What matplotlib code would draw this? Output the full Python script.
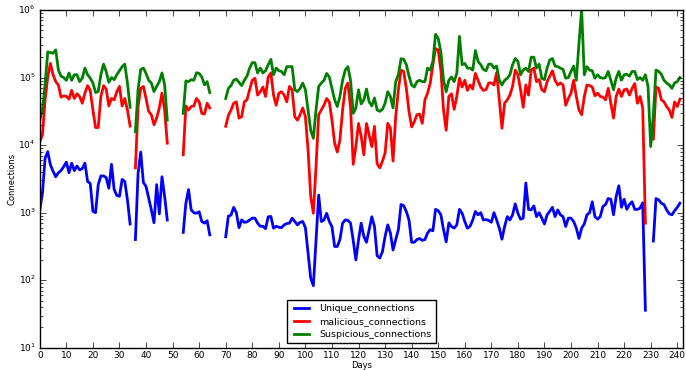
import numpy as np
import matplotlib
matplotlib.use('Agg')
import matplotlib.pyplot as plt
from matplotlib.ticker import MultipleLocator

plt.style.use('classic')

nan = None  # missing days

unique_connections = [
    1100, 1950, 6400, 8000, 5100, 4100, 3400, 3900, 4200, 4800,
    5600, 3900, 5400, 4200, 4900, 4300, 4500, 5400, 2900, 2700,
    1050, 1000, 2600, 3500, 3500, 3300, 2300, 5200, 2200, 1800,
    1750, 3100, 2900, 1550, 680, nan, 400, 3800, 7900, 2800,
    2450, 1650, 1100, 710, 2600, 960, 3400, 1740, 780, nan,
    nan, nan, nan, nan, 510, 1380, 2200, 1100, 1000, 980,
    1030, 740, 700, 760, 470, nan, nan, nan, nan, nan,
    440, 890, 920, 1200, 1000, 600, 780, 720, 730, 780,
    830, 830, 700, 630, 630, 580, 870, 880, 590, 630,
    610, 600, 660, 690, 700, 830, 740, 660, 720, 740,
    600, 250, 107, 83, 400, 1820, 740, 780, 980, 740,
    620, 316, 316, 400, 700, 780, 770, 700, 390, 200,
    395, 700, 445, 365, 560, 870, 625, 230, 213, 265,
    445, 660, 500, 280, 400, 560, 1320, 1270, 1040, 780,
    365, 365, 400, 415, 390, 400, 500, 560, 540, 1120,
    1070, 930, 560, 370, 705, 625, 590, 660, 1120, 980,
    740, 590, 630, 780, 1040, 930, 1000, 780, 790, 770,
    720, 1000, 780, 590, 405, 625, 875, 780, 930, 1350,
    980, 800, 830, 2750, 1120, 1100, 1260, 875, 1000, 830,
    680, 930, 1050, 1200, 875, 1100, 930, 875, 625, 830,
    830, 740, 590, 415, 590, 680, 930, 1000, 1450, 875,
    800, 875, 1230, 1320, 1620, 1580, 930, 1740, 2500, 1200,
    1580, 1120, 1320, 1450, 1120, 1120, 1170, 1400, 36, nan,
    nan, 380, 1620, 1550, 1380, 1320, 1100, 960, 930, 1070,
    1200, 1380,
]

malicious_connections = [
    11200, 14100, 46800, 102000, 162000, 110000, 87000, 77600, 51300, 53700,
    52500, 47900, 64600, 49000, 57500, 52500, 41700, 58900, 75900, 64600,
    33100, 18200, 18200, 52500, 75900, 67600, 38000, 49000, 46800, 61700,
    74100, 38000, 49000, 33100, 19100, nan, 4600, 37000, 69000, 74000,
    49000, 31600, 28200, 20000, 25100, 35500, 59000, 33100, 10700, nan,
    nan, nan, nan, nan, 7200, 38000, 33100, 37200, 38000, 49000,
    43700, 29500, 28800, 41700, 35500, nan, nan, nan, nan, nan,
    19000, 27500, 33100, 41700, 43700, 25100, 26300, 43700, 46800, 66100,
    91200, 97700, 55000, 61700, 72400, 52500, 102000, 117000, 55000, 38900,
    58900, 61700, 55000, 43700, 74000, 66000, 26300, 23400, 28200, 35500,
    26300, 8500, 1740, 980, 4800, 28200, 33100, 39000, 49000, 43700,
    23400, 10700, 7900, 12000, 33100, 69000, 83000, 35500, 5200, 9500,
    20900, 13500, 7200, 20900, 14100, 9500, 19000, 5300, 4600, 5800,
    7600, 21000, 17800, 5800, 26300, 66000, 129000, 123000, 69000, 31600,
    18600, 22200, 28200, 28800, 21000, 46800, 58900, 83000, 155000, 269000,
    257000, 129000, 33100, 16600, 52500, 57500, 33900, 52500, 97700, 72400,
    91200, 64600, 77600, 67600, 115000, 91200, 72400, 64600, 66000, 83200,
    83200, 77600, 118000, 46800, 17800, 41700, 46800, 55000, 74000, 129000,
    110000, 66000, 36300, 77600, 55000, 129000, 138000, 87000, 93300, 66000,
    61700, 87000, 105000, 126000, 91200, 77600, 83200, 77600, 38900, 49000,
    58900, 91200, 52500, 33100, 28200, 52500, 77600, 75900, 72400, 53700,
    58900, 52500, 51300, 46800, 69200, 41700, 25100, 52500, 67600, 52500,
    66000, 67600, 55000, 69200, 81300, 41700, 52500, 35500, 700, nan,
    nan, 12300, 72400, 69200, 46800, 43600, 37200, 33100, 25700, 43600,
    37200, 47900,
]

suspicious_connections = [
    23400, 33000, 79000, 240000, 234000, 229000, 257000, 129000, 105000, 100000,
    91000, 117000, 91000, 110000, 110000, 87000, 98000, 138000, 110000, 98000,
    83000, 60000, 62000, 110000, 158000, 123000, 85000, 100000, 93000, 110000,
    126000, 145000, 158000, 83000, 36300, nan, 15800, 66000, 132000, 138000,
    115000, 91000, 83000, 62000, 74000, 87000, 117000, 78000, 23400, nan,
    nan, nan, nan, nan, 29500, 89000, 87000, 93000, 91000, 118000,
    115000, 102000, 78000, 87000, 60000, nan, nan, nan, nan, nan,
    49000, 69000, 76000, 91000, 95000, 85000, 76000, 91000, 105000, 138000,
    166000, 166000, 117000, 138000, 117000, 126000, 155000, 186000, 110000, 138000,
    126000, 123000, 110000, 145000, 145000, 145000, 66000, 62000, 69000, 83000,
    66000, 33100, 16600, 12600, 33100, 74000, 83000, 91000, 115000, 102000,
    69000, 46800, 37200, 52500, 91000, 129000, 145000, 91000, 29500, 35500,
    66000, 40700, 46800, 67600, 43700, 38000, 50000, 33100, 31600, 33900,
    41700, 61700, 52500, 35500, 87000, 110000, 190000, 186000, 155000, 105000,
    77600, 72400, 87000, 91200, 87000, 87000, 138000, 129000, 174000, 437000,
    380000, 240000, 91200, 61700, 91200, 102000, 87000, 115000, 407000, 155000,
    162000, 138000, 138000, 129000, 251000, 174000, 155000, 132000, 126000, 158000,
    158000, 138000, 148000, 91000, 77600, 91000, 97700, 110000, 155000, 191000,
    174000, 110000, 129000, 138000, 123000, 200000, 200000, 138000, 158000, 97700,
    93300, 138000, 182000, 191000, 148000, 145000, 138000, 132000, 97700, 100000,
    123000, 148000, 91000, 323000, 1000000, 110000, 145000, 129000, 126000, 97700,
    110000, 100000, 97700, 100000, 123000, 91200, 66000, 97700, 123000, 91200,
    110000, 112000, 105000, 123000, 123000, 93300, 100000, 91200, 110000, 74000,
    9500, 28200, 129000, 123000, 112000, 91200, 83200, 77600, 69200, 83200,
    87000, 100000,
]

unique = np.array(unique_connections, dtype=float)
malicious = np.array(malicious_connections, dtype=float)
suspicious = np.array(suspicious_connections, dtype=float)
days = np.arange(len(unique))

fig = plt.figure(figsize=(6.86, 3.70), dpi=100, facecolor='white')
ax = fig.add_axes([0.058, 0.06, 0.937, 0.913])

ax.plot(days, unique, color='b', lw=2, label='Unique_connections')
ax.plot(days, malicious, color='r', lw=2, label='malicious_connections')
ax.plot(days, suspicious, color='g', lw=2, label='Suspicious_connections')

ax.set_yscale('log')
ax.set_ylim(10, 1e6)
ax.set_xlim(0, 242)
ax.xaxis.set_major_locator(MultipleLocator(10))
ax.tick_params(labelsize=6.5)
ax.tick_params(axis='x', pad=2)
ax.tick_params(axis='y', pad=3)
ax.set_xlabel('Days', fontsize=6, labelpad=1)
ax.set_ylabel('Connections', fontsize=6, labelpad=1)

ax.legend(loc='lower center', fontsize=6.8, borderaxespad=0.5,
          handlelength=2.2, labelspacing=0.4, borderpad=0.45)

fig.savefig('out.png', dpi=100, facecolor='white')
